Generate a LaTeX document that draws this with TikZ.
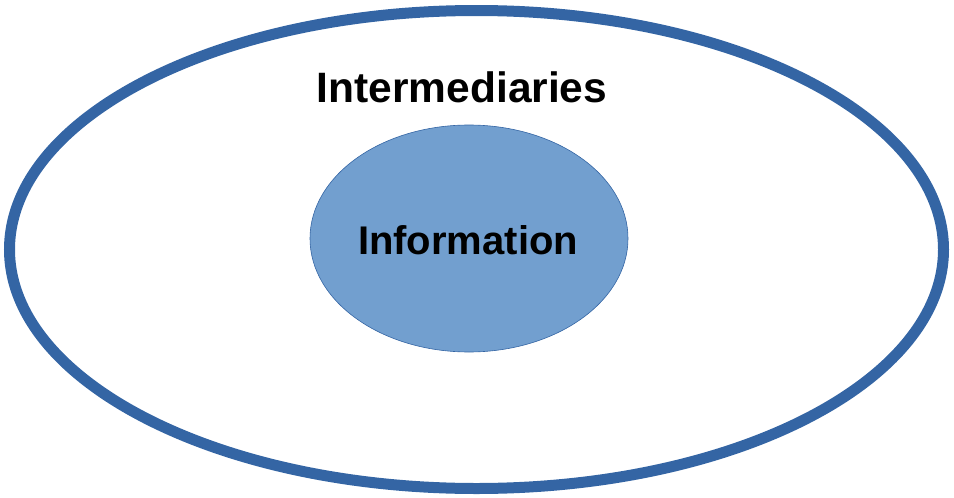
\documentclass[tikz,border=0pt]{standalone}
\usepackage{fontspec}
\setmainfont{Liberation Sans}
\usepackage{xcolor}
\usepackage{tikz}
\usetikzlibrary{shapes.geometric,positioning}
\definecolor{ringBlue}{HTML}{3465A4}
\definecolor{coreBlue}{HTML}{729FCF}
\tikzset {
	outerRing/.style={ellipse, draw=ringBlue, line width=11pt, minimum width=934pt, minimum height=478pt, inner sep=0pt},
	innerCore/.style={ellipse, draw=ringBlue, fill=coreBlue, line width=0.6pt, minimum width=318pt, minimum height=227pt, inner sep=0pt},
	bigLabel/.style={font=\fontsize{40}{42}\selectfont\bfseries, inner sep=0pt},
	biggerLabel/.style={font=\fontsize{42.5}{44}\selectfont\bfseries, inner sep=0pt}
}

\begin{document}
\begin{tikzpicture}[x=1pt, y=1pt]
					\useasboundingbox (0,0) rectangle (954,-498);
					\node [outerRing] (ring) at (476.5,-249.5) {};
					\node [innerCore] (core) at (469,-238.5) {};
					\node [bigLabel] (coreText) at (468,-240) {Information};
					\node [biggerLabel] (ringText) at (462,-87) {Intermediaries};
					\end{tikzpicture}
\end{document}
